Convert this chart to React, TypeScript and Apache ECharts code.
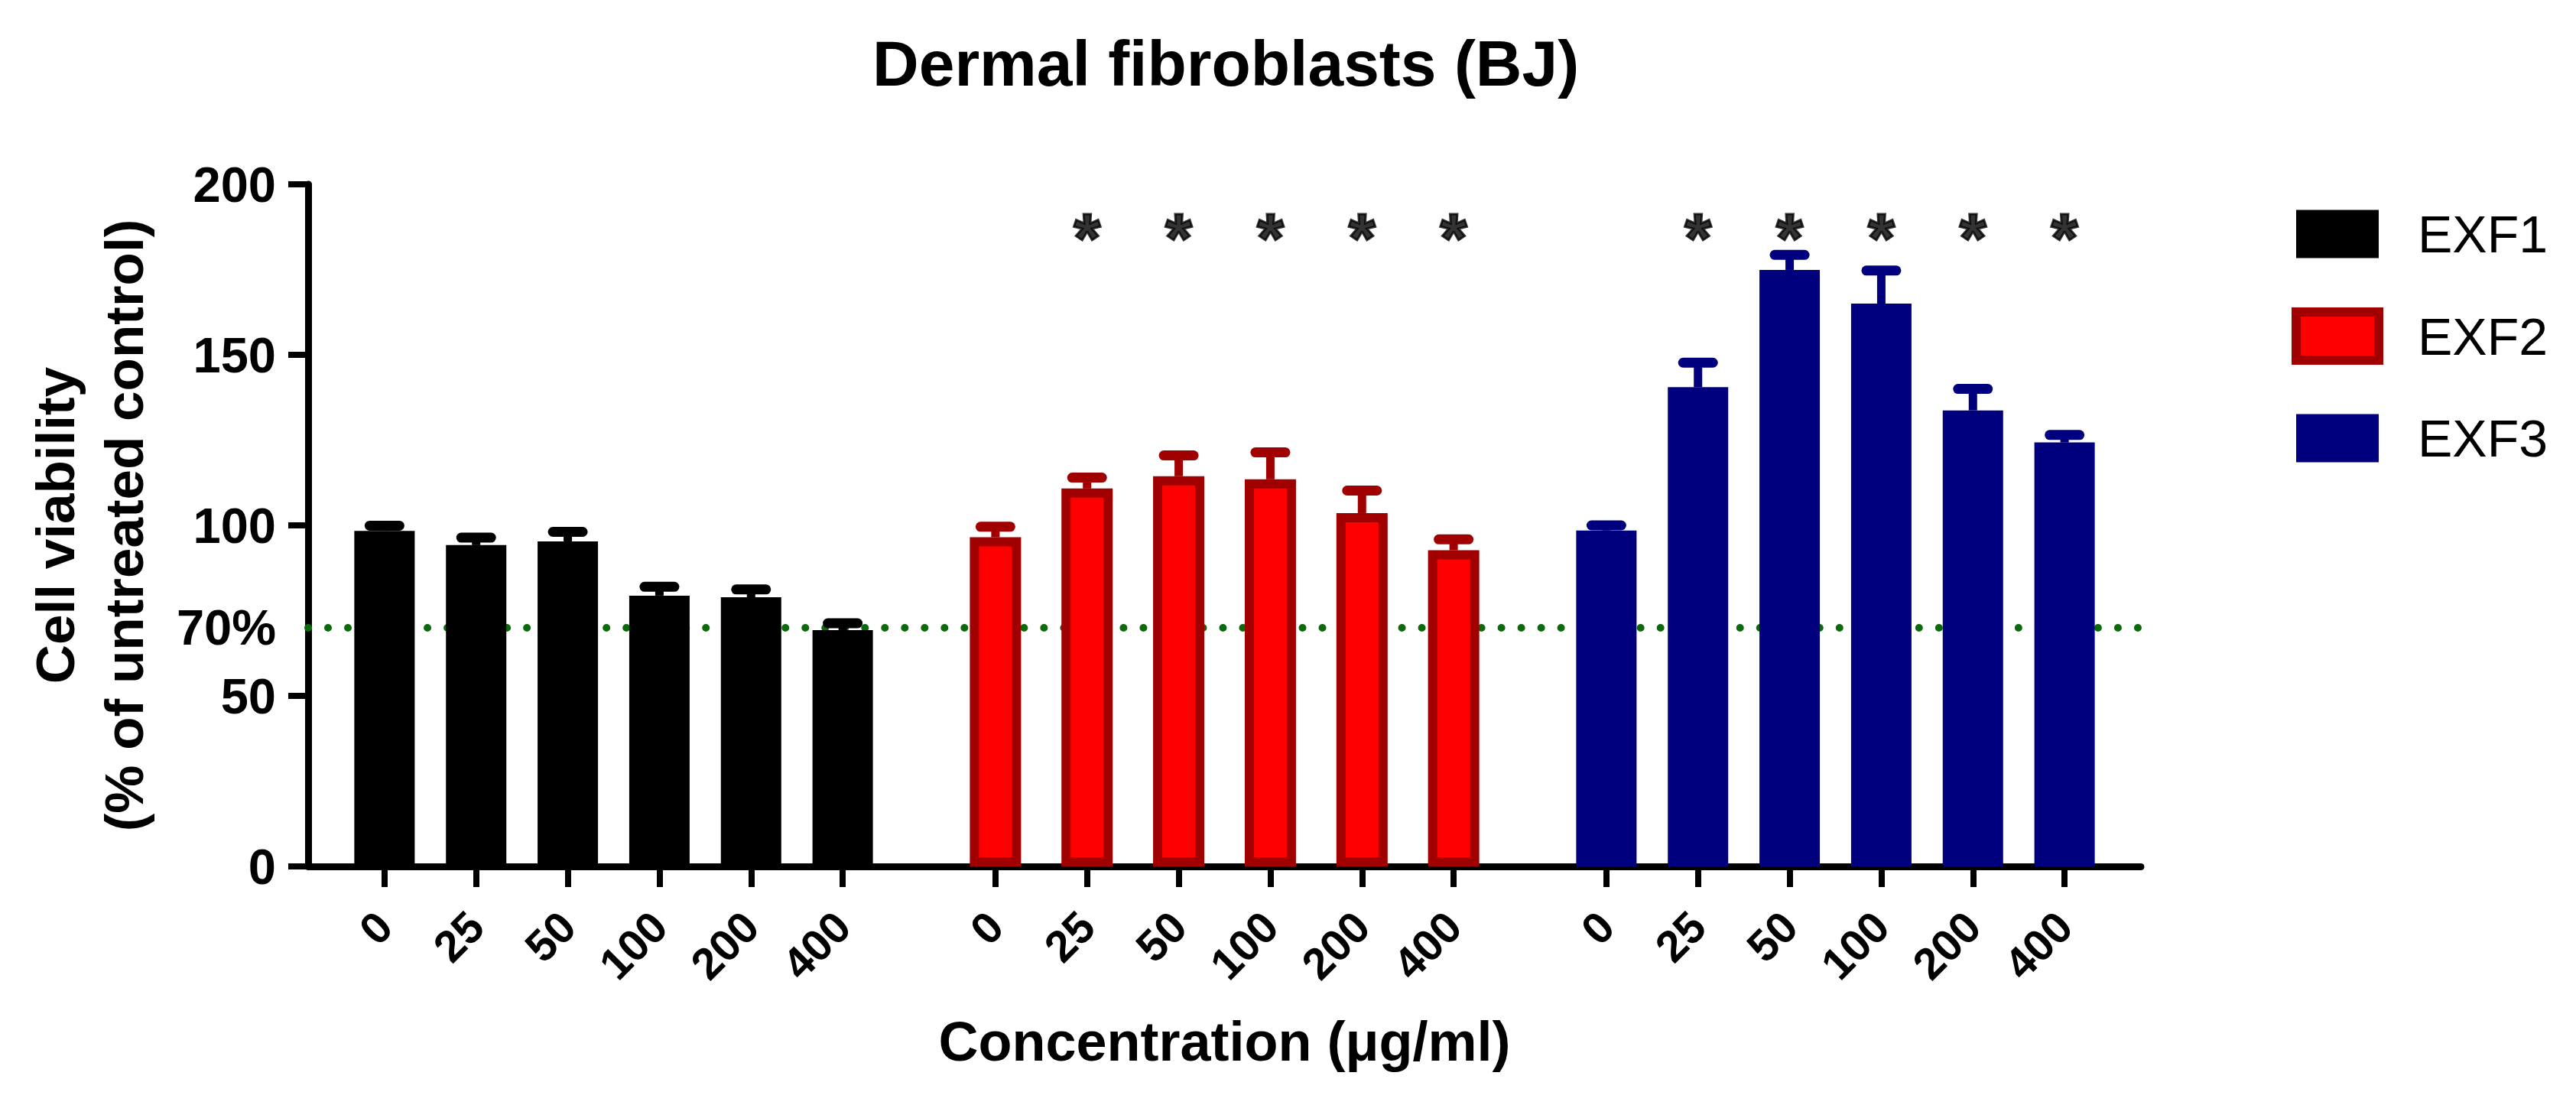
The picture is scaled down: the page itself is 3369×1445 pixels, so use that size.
import React, { useEffect, useRef } from 'react';
import * as echarts from 'echarts';

// ---- Data ----
const concentrations = ['0', '25', '50', '100', '200', '400'];
const seriesNames = ['EXF1', 'EXF2', 'EXF3'];
const exf1Mean = [98.4, 94.2, 95.3, 79.4, 78.9, 69.3];
const exf1Sd = [1.5, 2.2, 2.8, 2.6, 2.3, 2.0];
const exf2Mean = [96.5, 110.8, 114.4, 113.5, 103.6, 92.7];
const exf2Sd = [3.1, 3.2, 6.1, 7.9, 6.6, 3.2];
const exf3Mean = [98.5, 140.5, 174.9, 165.0, 133.7, 124.3];
const exf3Sd = [1.5, 7.2, 4.4, 9.7, 6.3, 2.2];
const exf2Significant = [false, true, true, true, true, true];
const exf3Significant = [false, true, true, true, true, true];
const yTickValues = [0, 50, 100, 150, 200];
const yLabelValues = [0, 50, 70, 100, 150, 200];
const thresholdValue = 70;
const starLevel = 184;

// ---- Layout helpers (positions on a value x-axis) ----
const SLOT = 3;
const GROUP_STRIDE = 20;
const X_MIN = -2.5;
const X_MAX = 57.5;
const pos = (g: number, i: number) => g * GROUP_STRIDE + i * SLOT;

const FONT = "'Liberation Sans', Arial, Helvetica, sans-serif";
const BLACK = '#000000';
const RED = '#ff0000';
const DARK_RED = '#a00000';
const NAVY = '#00007f';
const GREEN = '#0b6b0b';

const means = [exf1Mean, exf2Mean, exf3Mean];
const sds = [exf1Sd, exf2Sd, exf3Sd];
const errColors = [BLACK, DARK_RED, NAVY];

const allPositions: number[] = [];
const labelAt: Record<number, string> = {};
for (let g = 0; g < 3; g++) {
  concentrations.forEach((c, i) => {
    allPositions.push(pos(g, i));
    labelAt[pos(g, i)] = c;
  });
}

function makeXAxis(visible: boolean) {
  return {
    type: 'value',
    min: X_MIN,
    max: X_MAX,
    show: visible,
    position: 'bottom',
    splitLine: { show: false },
    axisLine: { show: visible, onZero: false, lineStyle: { color: BLACK, width: 9 } },
    axisTick: {
      show: visible,
      customValues: allPositions,
      length: 27,
      lineStyle: { color: BLACK, width: 8 },
    },
    axisLabel: {
      show: visible,
      customValues: allPositions,
      rotate: 45,
      margin: 69,
      fontSize: 58,
      fontWeight: 'bold',
      fontFamily: FONT,
      color: BLACK,
      formatter: (v: number) => labelAt[Math.round(v)] ?? '',
    },
    name: visible ? 'Concentration (μg/ml)' : '',
    nameLocation: 'middle',
    nameGap: 193,
    nameTextStyle: { fontSize: 72, fontWeight: 'bold', fontFamily: FONT, color: BLACK },
  };
}

function errorSeries(g: number) {
  return {
    type: 'custom',
    name: seriesNames[g] + ' SD',
    xAxisIndex: 0,
    z: 3,
    silent: true,
    data: means[g].map((m, i) => [pos(g, i), m, sds[g][i]]),
    renderItem: (_params: any, api: any) => {
      const x = api.value(0);
      const m = api.value(1);
      const e = api.value(2);
      const base = api.coord([x, m]);
      const top = api.coord([x, m + e]);
      const color = errColors[g];
      return {
        type: 'group',
        children: [
          {
            type: 'line',
            shape: { x1: base[0], y1: base[1], x2: top[0], y2: top[1] },
            style: { stroke: color, lineWidth: 11 },
          },
          {
            type: 'line',
            shape: { x1: top[0] - 19.5, y1: top[1], x2: top[0] + 19.5, y2: top[1] },
            style: { stroke: color, lineWidth: 13, lineCap: 'round' },
          },
        ],
      };
    },
  };
}

const starData: number[][] = [];
exf2Significant.forEach((s, i) => { if (s) starData.push([pos(1, i), starLevel]); });
exf3Significant.forEach((s, i) => { if (s) starData.push([pos(2, i), starLevel]); });

const option: any = {
  animation: false,
  backgroundColor: '#ffffff',
  title: {
    text: 'Dermal fibroblasts (BJ)',
    left: 1141,
    top: 41,
    padding: 0,
    textStyle: { fontSize: 84, fontWeight: 'bold', fontFamily: FONT, color: BLACK },
  },
  legend: {
    orient: 'vertical',
    left: 2997,
    top: 272,
    padding: 0,
    itemWidth: 108,
    itemHeight: 63,
    itemGap: 62,
    icon: 'rect',
    textStyle: { fontSize: 68, fontFamily: FONT, color: BLACK, padding: [0, 0, 0, 46] },
    data: [
      { name: 'EXF1' },
      { name: 'EXF2', itemStyle: { borderWidth: 12, borderColor: DARK_RED } },
      { name: 'EXF3' },
    ],
  },
  grid: { left: 403, right: 569, top: 241, bottom: 312, containLabel: false },
  xAxis: [makeXAxis(true), makeXAxis(false), makeXAxis(false)],
  yAxis: {
    type: 'value',
    min: 0,
    max: 200,
    splitLine: { show: false },
    axisLine: { show: true, onZero: false, lineStyle: { color: BLACK, width: 9 } },
    axisTick: { show: true, customValues: yTickValues, length: 26, lineStyle: { color: BLACK, width: 8 } },
    axisLabel: {
      customValues: yLabelValues,
      margin: 42,
      fontSize: 65,
      fontWeight: 'bold',
      fontFamily: FONT,
      color: BLACK,
      formatter: (v: number) => (v === thresholdValue ? '70%' : String(v)),
    },
    name: 'Cell viability\n(% of untreated control)',
    nameLocation: 'middle',
    nameRotate: 90,
    nameGap: 196,
    nameTextStyle: { fontSize: 71, fontWeight: 'bold', fontFamily: FONT, color: BLACK, lineHeight: 90 },
  },
  series: [
    {
      type: 'bar',
      name: 'EXF1',
      xAxisIndex: 0,
      barWidth: 79,
      z: 2,
      itemStyle: { color: BLACK },
      data: exf1Mean.map((v, i) => [pos(0, i), v]),
      markLine: {
        silent: true,
        z: 1,
        symbol: ['none', 'none'],
        label: { show: false },
        lineStyle: { color: GREEN, width: 10, type: [0.01, 26], cap: 'round' },
        data: [{ yAxis: thresholdValue }],
      },
    },
    {
      type: 'bar',
      name: 'EXF2',
      xAxisIndex: 1,
      barWidth: 67,
      z: 2,
      itemStyle: { color: RED, borderColor: DARK_RED, borderWidth: 12 },
      data: exf2Mean.map((v, i) => [pos(1, i), v]),
    },
    {
      type: 'bar',
      name: 'EXF3',
      xAxisIndex: 2,
      barWidth: 79,
      z: 2,
      itemStyle: { color: NAVY },
      data: exf3Mean.map((v, i) => [pos(2, i), v]),
    },
    errorSeries(0),
    errorSeries(1),
    errorSeries(2),
    {
      type: 'scatter',
      name: 'significance',
      xAxisIndex: 0,
      symbolSize: 1,
      itemStyle: { color: 'rgba(0,0,0,0)' },
      silent: true,
      z: 4,
      label: {
        show: true,
        position: 'inside',
        formatter: '*',
        fontSize: 90,
        fontWeight: 'bold',
        fontFamily: FONT,
        color: BLACK,
        textBorderColor: BLACK,
        textBorderWidth: 3,
      },
      data: starData,
    },
  ],
};

export default function App() {
  const ref = useRef<HTMLDivElement>(null);
  useEffect(() => {
    if (!ref.current) return;
    const chart = echarts.init(ref.current, null, { renderer: 'svg' });
    chart.setOption(option);
    return () => chart.dispose();
  }, []);
  return (
    <div
      ref={ref}
      style={{ position: 'fixed', left: 0, top: 0, width: 3369, height: 1445, background: '#ffffff' }}
    />
  );
}
